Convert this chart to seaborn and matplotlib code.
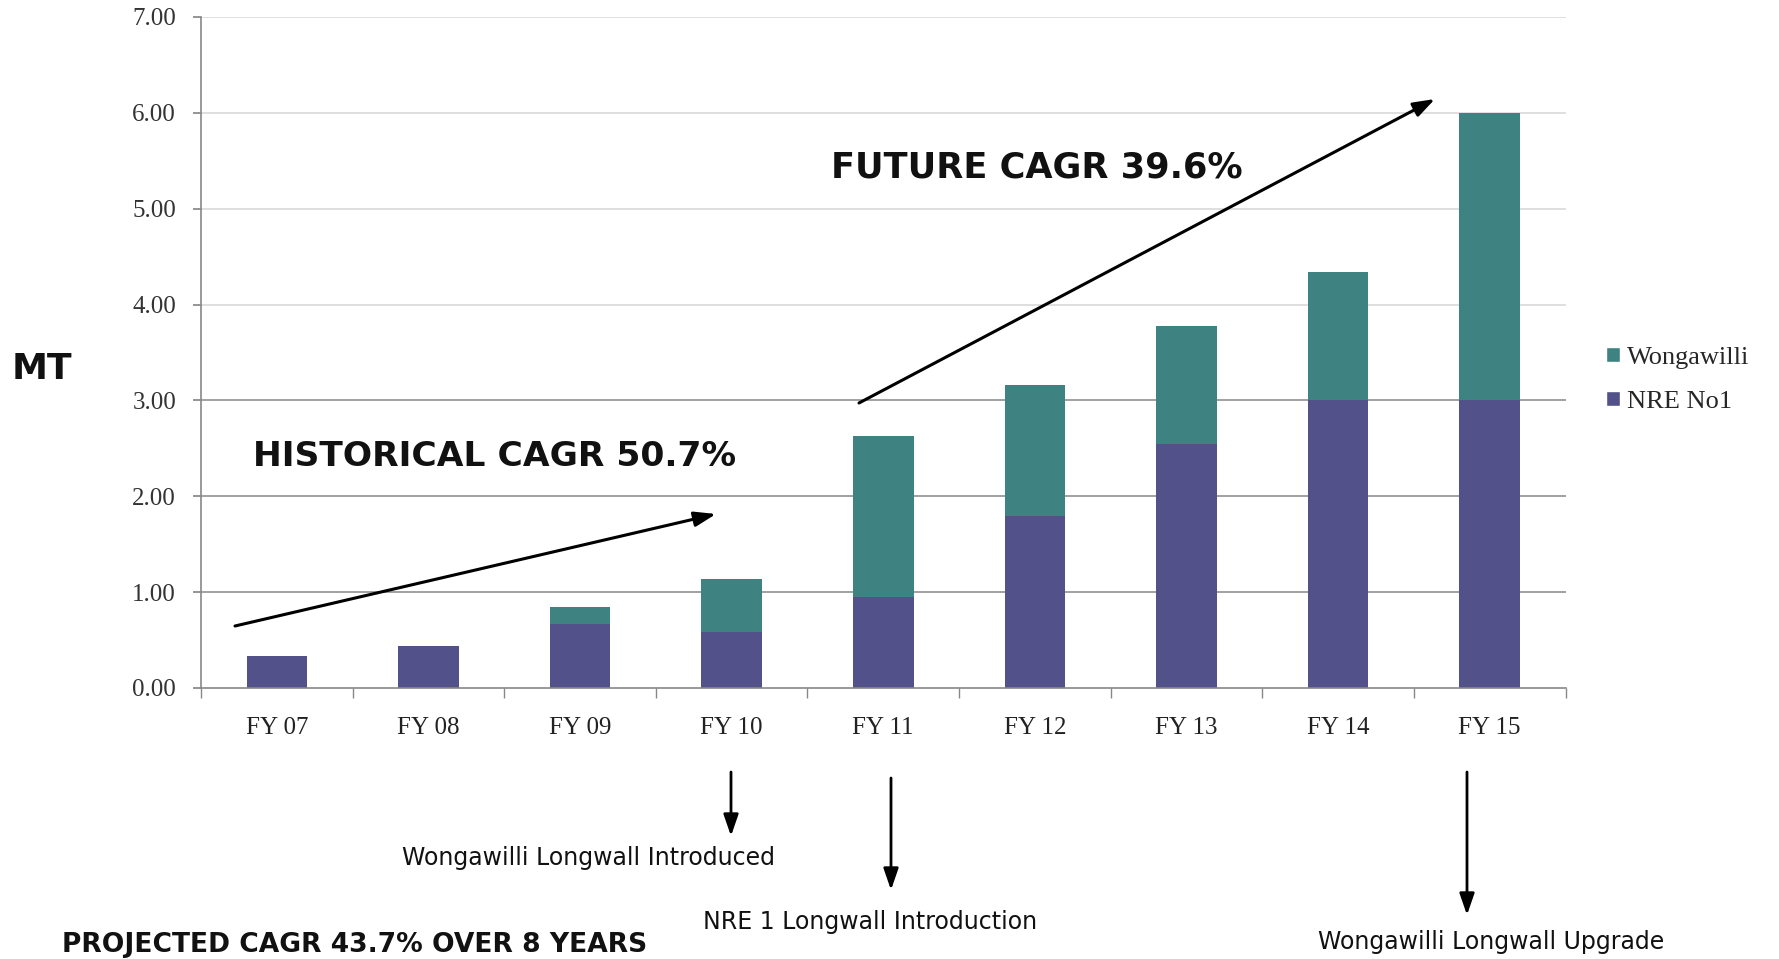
import matplotlib
matplotlib.use("Agg")
import matplotlib.pyplot as plt
import seaborn as sns
import pandas as pd
import numpy as np

categories = ["FY 07", "FY 08", "FY 09", "FY 10", "FY 11", "FY 12", "FY 13", "FY 14", "FY 15"]
nre_no1 = [0.33, 0.44, 0.67, 0.58, 0.95, 1.79, 2.55, 3.00, 3.00]
wongawilli = [0.00, 0.00, 0.18, 0.56, 1.68, 1.37, 1.23, 1.34, 3.00]
y_ticks = [0, 1, 2, 3, 4, 5, 6, 7]

NRE_COLOR = "#52518A"
WONG_COLOR = "#3E8282"

sns.set_theme(style="white")
plt.rcParams["font.family"] = ["DejaVu Sans"]

df = pd.DataFrame({"cat": categories, "nre": nre_no1,
                   "total": np.array(nre_no1) + np.array(wongawilli)})

fig = plt.figure(figsize=(17.79, 9.59), dpi=100)
ax = fig.add_axes([0.113, 0.2826, 0.767, 0.6997])

sns.barplot(data=df, x="cat", y="total", color=WONG_COLOR, saturation=1,
            width=0.4, ax=ax, edgecolor="none")
sns.barplot(data=df, x="cat", y="nre", color=NRE_COLOR, saturation=1,
            width=0.4, ax=ax, edgecolor="none")

ax.set_xlim(-0.5, len(categories) - 0.5)
ax.set_ylim(0, 7)
ax.set_yticks(y_ticks)
ax.set_yticklabels([f"{v:.2f}" for v in y_ticks], family="Liberation Serif",
                   fontsize=18, color="#333333")
ax.set_xlabel("")
ax.set_ylabel("")
ax.set_xticks(range(len(categories)))
ax.set_xticklabels(categories, family="Liberation Serif", fontsize=18, color="#222222")
ax.tick_params(axis="x", length=0, pad=21)
ax.set_xticks(np.arange(-0.5, len(categories), 1.0), minor=True)
ax.tick_params(axis="x", which="minor", length=7, color="#888888", direction="out", bottom=True)
ax.tick_params(axis="y", length=6, color="#888888", direction="out", left=True, pad=12)

for s in ["top", "right"]:
    ax.spines[s].set_visible(False)
for s in ["left", "bottom"]:
    ax.spines[s].set_color("#888888")
    ax.spines[s].set_linewidth(1.2)

for v in y_ticks[1:]:
    col = "#9a9a9a" if v <= 3 else "#dcdcdc"
    ax.axhline(v, color=col, linewidth=1.3, zorder=0)

# legend
from matplotlib.patches import Patch
handles = [Patch(facecolor=WONG_COLOR, label="Wongawilli"),
           Patch(facecolor=NRE_COLOR, label="NRE No1")]
fig.legend(handles=handles, loc="upper left", bbox_to_anchor=(0.897, 0.649),
           frameon=False, prop={"family": "Liberation Serif", "size": 19},
           handlelength=0.5, handleheight=0.5, handletextpad=0.3, labelspacing=0.84,
           borderaxespad=0)

# texts
fig.text(42 / 1779, 1 - 369 / 959, "MT", fontsize=26, fontweight="bold",
         ha="center", va="center", color="#111111")
fig.text(1037 / 1779, 1 - 168 / 959, "FUTURE CAGR 39.6%", fontsize=25.3, fontweight="bold",
         ha="center", va="center", color="#111111")
fig.text(495 / 1779, 1 - 456 / 959, "HISTORICAL CAGR 50.7%", fontsize=24.8, fontweight="bold",
         ha="center", va="center", color="#111111")
fig.text(355 / 1779, 1 - 945 / 959, "PROJECTED CAGR 43.7% OVER 8 YEARS", fontsize=19.1,
         fontweight="bold", ha="center", va="center", color="#111111")
fig.text(588 / 1779, 1 - 858 / 959, "Wongawilli Longwall Introduced", fontsize=17,
         ha="center", va="center", color="#111111")
fig.text(870 / 1779, 1 - 922 / 959, "NRE 1 Longwall Introduction", fontsize=17,
         ha="center", va="center", color="#111111")
fig.text(1491 / 1779, 1 - 942 / 959, "Wongawilli Longwall Upgrade", fontsize=17,
         ha="center", va="center", color="#111111")

def farrow(x0, y0, x1, y1, lw=2.2):
    fig.add_artist(matplotlib.patches.FancyArrowPatch(
        (x0 / 1779, 1 - y0 / 959), (x1 / 1779, 1 - y1 / 959),
        transform=fig.transFigure, arrowstyle="-|>,head_length=13,head_width=4.5",
        mutation_scale=1, color="black", linewidth=lw, shrinkA=0, shrinkB=0))

farrow(235, 626, 716, 514)
farrow(859, 403, 1435, 99)
farrow(731, 772, 731, 836, lw=2)
farrow(891, 778, 891, 890, lw=2)
farrow(1467, 772, 1467, 915, lw=2)

fig.savefig("out.png", dpi=100, facecolor="white")
